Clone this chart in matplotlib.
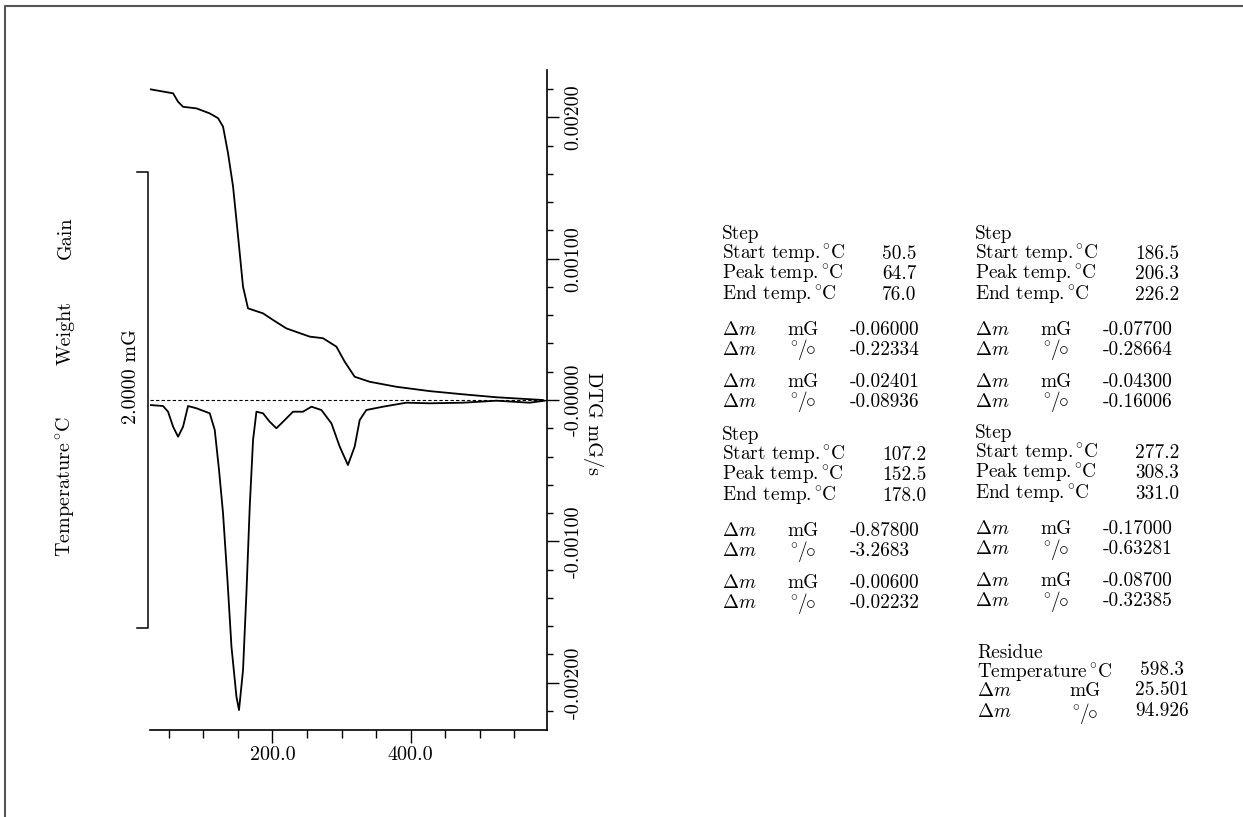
import matplotlib
matplotlib.use("Agg")
import matplotlib.pyplot as plt
import matplotlib.transforms as mtransforms
from matplotlib.lines import Line2D
from matplotlib.ticker import MultipleLocator, FixedLocator, FixedFormatter

plt.rcParams['font.family'] = ['cmr10', 'DejaVu Serif']
plt.rcParams['mathtext.fontset'] = 'cm'
plt.rcParams['axes.unicode_minus'] = False

# ---------------- data ----------------
# TG curve (temperature degC, weight mG)
tg_temp = [23, 56.4, 63.6, 70.8, 90.2, 109.4, 121.4, 128.6, 135.8, 143.1, 148.0,
           152.7, 157.5, 164.7, 186.4, 200.9, 220.2, 253.9, 273.1, 292.5, 304.5,
           318.9, 340.6, 379.2, 427.3, 475.4, 523.7, 591.0]
tg_mass = [26.864, 26.846, 26.809, 26.787, 26.780, 26.758, 26.737, 26.700, 26.584,
           26.437, 26.290, 26.146, 25.998, 25.903, 25.881, 25.852, 25.815, 25.779,
           25.772, 25.735, 25.669, 25.603, 25.581, 25.559, 25.540, 25.526, 25.513,
           25.501]

# DTG curve (temperature degC, mG/s)
dtg_temp = [22.7, 41.9, 49.1, 56.4, 63.6, 70.8, 78.0, 90.2, 109.4, 116.6, 122.8,
            128.6, 135.0, 140.8, 148.0, 151.7, 157.5, 162.4, 167.2, 172.0, 176.9,
            186.4, 196.1, 205.8, 217.8, 229.8, 244.2, 256.4, 270.8, 285.3, 297.3,
            309.2, 318.9, 326.2, 335.8, 359.8, 393.6, 427.3, 475.4, 523.7, 571.8,
            593.5]
dtg_val = [-0.0000354, -0.0000425, -0.0000828, -0.000189, -0.000260, -0.000189,
           -0.0000425, -0.0000587, -0.0000941, -0.000212, -0.000495, -0.000802,
           -0.001274, -0.001746, -0.002100, -0.002194, -0.001911, -0.001368,
           -0.000755, -0.000283, -0.0000828, -0.0000941, -0.000154, -0.000200,
           -0.000142, -0.0000828, -0.0000828, -0.0000474, -0.0000708, -0.000165,
           -0.000330, -0.000460, -0.000330, -0.000142, -0.0000708, -0.0000474,
           -0.0000191, -0.0000234, -0.0000191, -0.000005, -0.0000191, -0.000005]

x_tick_vals = [200, 400]
x_tick_labels = ['200.0', '400.0']
y_tick_vals = [-0.002, -0.001, 0.0, 0.001, 0.002]
y_tick_labels = ['-0.00200', '-0.00100', '-0.00000', '0.00100', '0.00200']

residue_mass = 25.501
scale_bar_mg = 2.0

step_start = ['50.5', '186.5', '107.2', '277.2']
step_peak = ['64.7', '206.3', '152.5', '308.3']
step_end = ['76.0', '226.2', '178.0', '331.0']
step_dm1_mg = ['-0.06000', '-0.07700', '-0.87800', '-0.17000']
step_dm1_pct = ['-0.22334', '-0.28664', '-3.2683', '-0.63281']
step_dm2_mg = ['-0.02401', '-0.04300', '-0.00600', '-0.08700']
step_dm2_pct = ['-0.08936', '-0.16006', '-0.02232', '-0.32385']

residue_temp = '598.3'
residue_mg = '25.501'
residue_pct = '94.926'

# ---------------- figure ----------------
W, H = 1243, 817
fig = plt.figure(figsize=(W / 100, H / 100), dpi=100)
FS = 14.5      # axis / side labels
TFS = 13.9     # table text

def fx(x):
    return x / W

def fy(y):
    return 1 - y / H

ax = fig.add_axes([fx(150), fy(730), fx(547) - fx(150), fy(70) - fy(730)])
ax.set_xlim(23, 597)
ax.set_ylim(-0.002335, 0.002335)

ax2 = ax.twinx()
half = scale_bar_mg * 660 / 456 / 2
ax2.set_ylim(residue_mass - half, residue_mass + half)

for a in (ax, ax2):
    a.spines['top'].set_visible(False)
    a.spines['left'].set_visible(False)
ax2.spines['right'].set_visible(False)
ax2.spines['bottom'].set_visible(False)
ax2.set_yticks([])
ax2.tick_params(left=False, right=False, labelleft=False, labelright=False)

ax.plot(dtg_temp, dtg_val, color='black', lw=1.3)
ax.axhline(0, color='black', lw=0.8, ls=(0, (3, 2)))
ax2.plot(tg_temp, tg_mass, color='black', lw=1.3)

# x axis ticks
ax.xaxis.set_major_locator(FixedLocator(x_tick_vals))
ax.xaxis.set_major_formatter(FixedFormatter(x_tick_labels))
ax.xaxis.set_minor_locator(MultipleLocator(50))
ax.tick_params(axis='x', which='major', direction='out', length=9.5, width=1.0,
               labelsize=FS, pad=2)
ax.tick_params(axis='x', which='minor', direction='out', length=5.5, width=1.0)

# right y axis
ax.yaxis.tick_right()
ax.yaxis.set_major_locator(FixedLocator(y_tick_vals))
ax.yaxis.set_major_formatter(FixedFormatter(y_tick_labels))
ax.yaxis.set_minor_locator(MultipleLocator(0.0002))
ax.tick_params(axis='y', which='major', direction='out', length=8.5, width=1.0,
               labelsize=FS, pad=4, left=False, right=True,
               labelleft=False, labelright=True)
ax.tick_params(axis='y', which='minor', direction='out', length=4.5, width=1.0,
               left=False, right=True)
for lab in ax.get_yticklabels():
    lab.set_rotation(90)
    lab.set_va('center')
ax.spines['right'].set_linewidth(1.2)
ax.spines['bottom'].set_linewidth(1.2)

# scale bar bracket (2 mG)
trans = mtransforms.blended_transform_factory(ax.transAxes, ax2.transData)
bar_lo = residue_mass - scale_bar_mg / 2
bar_hi = residue_mass + scale_bar_mg / 2
ax2.plot([-0.033, -0.005, -0.005, -0.033], [bar_hi, bar_hi, bar_lo, bar_lo],
         color='black', lw=1.1, transform=trans, clip_on=False)

DEG_C = r'$^\circ\!$C'

# left labels
fig.text(fx(66), fy(238), 'Gain', rotation=90, ha='center', va='center', fontsize=FS)
fig.text(fx(66), fy(333), 'Weight', rotation=90, ha='center', va='center', fontsize=FS)
fig.text(fx(66), fy(487), 'Temperature' + DEG_C, rotation=90, ha='center',
         va='center', fontsize=FS)
fig.text(fx(131), fy(377), '2.0000 mG', rotation=90, ha='center', va='center',
         fontsize=FS)
fig.text(fx(593), fy(423), 'DTG mG/s', rotation=270, ha='center', va='center',
         fontsize=FS)

# table
DM = r'$\Delta m$'
PCT = r'$^\circ\!/\!\!\circ$'

def t(x, y, s, ha='left', size=TFS):
    fig.text(fx(x), fy(y), s, ha=ha, va='center', fontsize=size)

blocks = [(722, 234), (975, 234), (722, 435), (975, 433)]
for i, (bx, by) in enumerate(blocks):
    t(bx, by, 'Step')
    t(bx, by + 20, 'Start temp.' + DEG_C)
    t(bx, by + 40, 'Peak temp.' + DEG_C)
    t(bx, by + 61, 'End temp.' + DEG_C)
    t(bx + 160, by + 20, step_start[i])
    t(bx + 160, by + 40, step_peak[i])
    t(bx + 160, by + 61, step_end[i])
    rows = [(96, 'mG', step_dm1_mg[i]), (116, PCT, step_dm1_pct[i]),
            (148, 'mG', step_dm2_mg[i]), (168, PCT, step_dm2_pct[i])]
    for dy, unit, val in rows:
        t(bx, by + dy, DM)
        t(bx + 65, by + dy, unit)
        t(bx + 128, by + dy, val)

# residue
t(977, 653, 'Residue')
t(977, 673, 'Temperature' + DEG_C)
t(1140, 670, residue_temp)
t(977, 691, DM)
t(1069, 691, 'mG')
t(1135, 690, residue_mg)
t(977, 712, DM)
t(1069, 713, PCT)
t(1135, 711, residue_pct)

# page border (top and left)
fig.add_artist(Line2D([fx(5), fx(5), 1.0], [0.0, fy(6), fy(6)],
                      transform=fig.transFigure, color='#555555', lw=1.5))

fig.savefig('out.png', dpi=100)
